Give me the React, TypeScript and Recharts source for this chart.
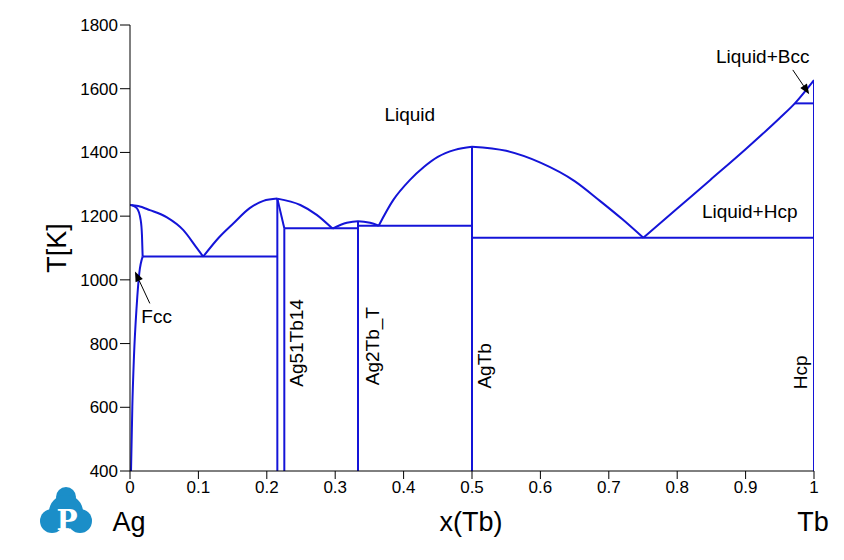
import { LineChart, Line, XAxis, YAxis, ReferenceDot, ReferenceLine } from 'recharts'

// Ag–Tb phase diagram, composition x(Tb) vs temperature T[K]
const xTicks = [0, 0.1, 0.2, 0.3, 0.4, 0.5, 0.6, 0.7, 0.8, 0.9, 1]
const yTicks = [400, 600, 800, 1000, 1200, 1400, 1600, 1800]

// curved boundaries (x increasing)
const liqAg = [
  { x: 0, T: 1235 }, { x: 0.012, T: 1232 }, { x: 0.029, T: 1219 }, { x: 0.054, T: 1196 },
  { x: 0.078, T: 1156 }, { x: 0.097, T: 1102 }, { x: 0.107, T: 1073 },
]
const fccSolidus = [
  { x: 0.002, T: 1235 }, { x: 0.01, T: 1225 }, { x: 0.0156, T: 1188 }, { x: 0.0175, T: 1140 }, { x: 0.0185, T: 1073 },
]
const fccSolvus = [
  { x: 0.0015, T: 400 }, { x: 0.0034, T: 602 }, { x: 0.0058, T: 759 }, { x: 0.0097, T: 916 },
  { x: 0.0136, T: 1021 }, { x: 0.0185, T: 1073 },
]
const liqA51Left = [
  { x: 0.107, T: 1073 }, { x: 0.13, T: 1133 }, { x: 0.151, T: 1177 }, { x: 0.175, T: 1225 },
  { x: 0.195, T: 1248 }, { x: 0.2154, T: 1255 },
]
const liqA51Right = [
  { x: 0.2154, T: 1255 }, { x: 0.249, T: 1235 }, { x: 0.273, T: 1204 }, { x: 0.296, T: 1161 },
]
const liqAg2Tb = [
  { x: 0.296, T: 1161 }, { x: 0.317, T: 1179 }, { x: 0.3333, T: 1184 }, { x: 0.351, T: 1179 }, { x: 0.3636, T: 1170 },
]
const liqAgTbLeft = [
  { x: 0.3636, T: 1170 }, { x: 0.385, T: 1251 }, { x: 0.409, T: 1313 }, { x: 0.43, T: 1355 },
  { x: 0.45, T: 1386 }, { x: 0.475, T: 1408 }, { x: 0.5, T: 1418 },
]
const liqAgTbRight = [
  { x: 0.5, T: 1418 }, { x: 0.55, T: 1405 }, { x: 0.6, T: 1368 }, { x: 0.65, T: 1310 },
  { x: 0.687, T: 1248 }, { x: 0.72, T: 1190 }, { x: 0.7505, T: 1132 },
]
const liqTb = [
  { x: 0.7505, T: 1132 }, { x: 0.8, T: 1224 }, { x: 0.848, T: 1313 }, { x: 0.9, T: 1410 },
  { x: 0.95, T: 1508 }, { x: 0.972, T: 1554 }, { x: 1, T: 1627 },
]

// straight lines: invariants and compounds
const eutAg = [{ x: 0.0185, T: 1073 }, { x: 0.2154, T: 1073 }]
const a51Slant = [{ x: 0.2154, T: 1255 }, { x: 0.2256, T: 1162 }]
const a51Left = [{ x: 0.2154, T: 400 }, { x: 0.2154, T: 1255 }]
const a51Right = [{ x: 0.2256, T: 400 }, { x: 0.2256, T: 1162 }]
const eutA51 = [{ x: 0.2256, T: 1162 }, { x: 0.3333, T: 1162 }]
const ag2TbLine = [{ x: 0.3333, T: 400 }, { x: 0.3333, T: 1184 }]
const eutAg2Tb = [{ x: 0.3333, T: 1170 }, { x: 0.5, T: 1170 }]
const agTbLine = [{ x: 0.5, T: 400 }, { x: 0.5, T: 1418 }]
const eutTb = [{ x: 0.5, T: 1132 }, { x: 1, T: 1132 }]
const bccLine = [{ x: 0.972, T: 1554 }, { x: 1, T: 1554 }]
const tbLine = [{ x: 1, T: 400 }, { x: 1, T: 1627 }]

const curves = [liqAg, fccSolidus, fccSolvus, liqA51Left, liqA51Right, liqAg2Tb, liqAgTbLeft, liqAgTbRight, liqTb]
const straights = [eutAg, a51Slant, a51Left, a51Right, eutA51, ag2TbLine, eutAg2Tb, agTbLine, eutTb, bccLine, tbLine]

const labels = [
  { text: 'Liquid', x: 0.409, T: 1520, rot: false },
  { text: 'Liquid+Hcp', x: 0.906, T: 1214, rot: false },
  { text: 'Liquid+Bcc', x: 0.925, T: 1700, rot: false },
  { text: 'Fcc', x: 0.039, T: 884, rot: false },
  { text: 'Ag51Tb14', x: 0.244, T: 802, rot: true },
  { text: 'Ag2Tb_T', x: 0.354, T: 792, rot: true },
  { text: 'AgTb', x: 0.519, T: 730, rot: true },
  { text: 'Hcp', x: 0.98, T: 710, rot: true },
]

const arrows = [
  [{ x: 0.969, y: 1659 }, { x: 0.993, y: 1583 }],
  [{ x: 0.029, y: 926 }, { x: 0.0073, y: 1026 }],
]

const BLUE = '#1414d8'

const Arrow = (p: any) => {
  const { x1, y1, x2, y2 } = p
  const a = Math.atan2(y2 - y1, x2 - x1)
  const L = 10, W = 4
  const bx = x2 - L * Math.cos(a), by = y2 - L * Math.sin(a)
  const pts = `${x2},${y2} ${bx - W * Math.sin(a)},${by + W * Math.cos(a)} ${bx + W * Math.sin(a)},${by - W * Math.cos(a)}`
  return (
    <g>
      <line x1={x1} y1={y1} x2={bx} y2={by} stroke="#000" strokeWidth={1} />
      <polygon points={pts} fill="#000" />
    </g>
  )
}

const Logo = () => (
  <svg width={60} height={56} viewBox="0 0 60 56" style={{ position: 'absolute', left: 36, top: 482 }}>
    <g fill="#1b8ec8">
      <circle cx={30} cy={15} r={10} />
      <circle cx={30} cy={30} r={17} />
      <circle cx={16} cy={39} r={12} />
      <circle cx={44} cy={39} r={12} />
    </g>
    <text x={31} y={48} textAnchor="middle" fill="#fff" fontSize={28} fontWeight="bold"
      fontFamily="'DejaVu Serif', 'Liberation Serif', serif">P</text>
  </svg>
)

export default function App() {
  return (
    <div style={{ position: 'absolute', left: 0, top: 0, width: 844, height: 560, background: '#fff',
      fontFamily: "Arial, 'Liberation Sans', sans-serif" }}>
      <LineChart width={844} height={560} data={liqAg} margin={{ top: 25, right: 30, bottom: 59, left: 70 }}>
        <XAxis type="number" dataKey="x" domain={[0, 1]} ticks={xTicks} allowDataOverflow
          tick={{ fill: '#000', fontSize: 17 }} tickSize={8} stroke="#000" height={30} />
        <XAxis xAxisId="top" orientation="top" type="number" dataKey="x" domain={[0, 1]} tick={false}
          tickLine={false} stroke="#000" height={0} />
        <YAxis type="number" dataKey="T" domain={[400, 1800]} ticks={yTicks} allowDataOverflow
          tick={{ fill: '#000', fontSize: 17 }} tickSize={10} stroke="#000" width={60} />
        <YAxis yAxisId="right" orientation="right" type="number" domain={[400, 1800]} tick={false}
          tickLine={false} stroke="#000" width={0} />
        {curves.map((seg, i) => (
          <Line key={'c' + i} data={seg} dataKey="T" type="monotone" stroke={BLUE} strokeWidth={2}
            dot={false} activeDot={false} isAnimationActive={false} />
        ))}
        {straights.map((seg, i) => (
          <Line key={'s' + i} data={seg} dataKey="T" type="linear" stroke={BLUE} strokeWidth={2}
            dot={false} activeDot={false} isAnimationActive={false} />
        ))}
        {arrows.map((seg, i) => (
          <ReferenceLine key={'a' + i} segment={seg} shape={Arrow} ifOverflow="visible" />
        ))}
        {labels.map(l => (
          <ReferenceDot key={l.text} x={l.x} y={l.T} r={0} ifOverflow="visible"
            shape={(p: any) => (
              <text x={p.cx} y={p.cy} textAnchor="middle" dominantBaseline="central" fontSize={19} fill="#000"
                transform={l.rot ? `rotate(-90 ${p.cx} ${p.cy})` : undefined}>{l.text}</text>
            )} />
        ))}
      </LineChart>
      <div style={{ position: 'absolute', left: 57, top: 248, transform: 'translate(-50%,-50%) rotate(-90deg)',
        fontSize: 27, whiteSpace: 'nowrap' }}>T[K]</div>
      <div style={{ position: 'absolute', left: 471, top: 522, transform: 'translate(-50%,-50%)', fontSize: 27 }}>x(Tb)</div>
      <div style={{ position: 'absolute', left: 129, top: 522, transform: 'translate(-50%,-50%)', fontSize: 27 }}>Ag</div>
      <div style={{ position: 'absolute', left: 813, top: 522, transform: 'translate(-50%,-50%)', fontSize: 27 }}>Tb</div>
      <Logo />
    </div>
  )
}
